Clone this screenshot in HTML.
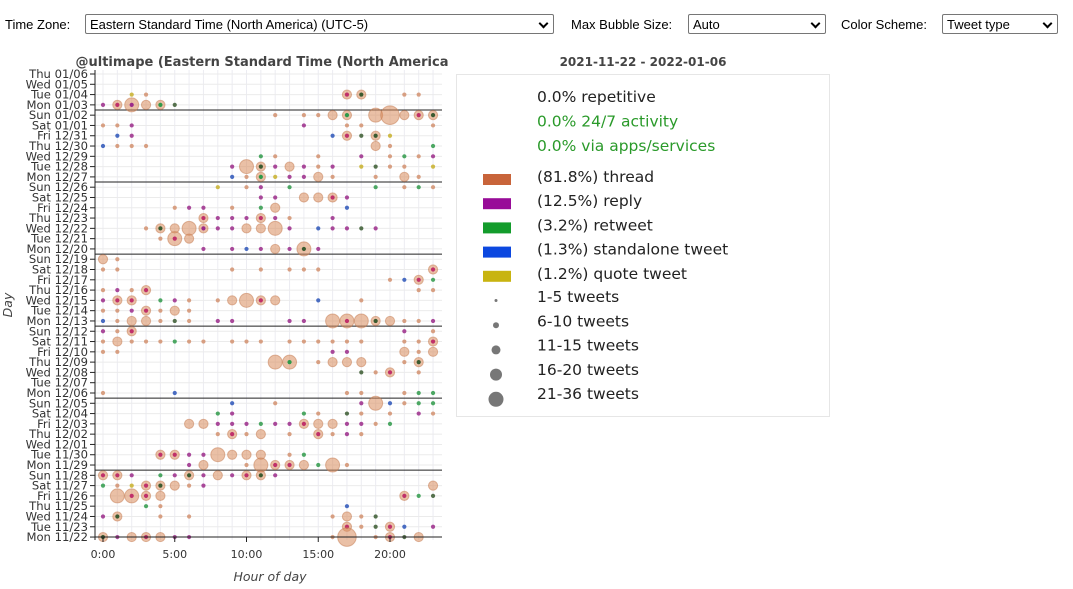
<!DOCTYPE html>
<html><head><meta charset="utf-8"><style>
body{margin:0;width:1073px;height:589px;background:#fff;overflow:hidden;font-family:"Liberation Sans",Arial,sans-serif;}
.sel{position:absolute;top:14px;height:20px;border:1px solid #767676;border-radius:2px;font-size:13px;line-height:20px;padding-left:4px;box-sizing:border-box;color:#000;background:#fff}
.sel:after{content:"";position:absolute;right:6px;top:5px;width:5px;height:5px;border-right:2px solid #000;border-bottom:2px solid #000;transform:rotate(45deg)}
.lab{position:absolute;top:17px;font-size:13px;color:#000}
</style></head><body>
<div class="lab" style="left:5px">Time Zone:</div>
<div class="sel" style="left:85px;width:469px">Eastern Standard Time (North America) (UTC-5)</div>
<div class="lab" style="left:571px">Max Bubble Size:</div>
<div class="sel" style="left:688px;width:138px">Auto</div>
<div class="lab" style="left:841px">Color Scheme:</div>
<div class="sel" style="left:942px;width:116px">Tweet type</div>
<svg id="s" width="1073" height="589" style="position:absolute;left:0;top:0" xmlns="http://www.w3.org/2000/svg" font-family="DejaVu Sans, sans-serif"></svg>
<script>
var S=document.getElementById('s'),h='';
var X0=103,DX=14.35,Y0=74,DY=10.29;
h+='<text x="262" y="66" text-anchor="middle" font-size="13" font-weight="bold" fill="#444">@ultimape (Eastern Standard Time (North America</text>';
h+='<text x="643" y="66" text-anchor="middle" font-size="12" font-weight="bold" fill="#444">2021-11-22 - 2022-01-06</text>';
var days=["Thu 01/06","Wed 01/05","Tue 01/04","Mon 01/03","Sun 01/02","Sat 01/01","Fri 12/31","Thu 12/30","Wed 12/29","Tue 12/28","Mon 12/27","Sun 12/26","Sat 12/25","Fri 12/24","Thu 12/23","Wed 12/22","Tue 12/21","Mon 12/20","Sun 12/19","Sat 12/18","Fri 12/17","Thu 12/16","Wed 12/15","Tue 12/14","Mon 12/13","Sun 12/12","Sat 12/11","Fri 12/10","Thu 12/09","Wed 12/08","Tue 12/07","Mon 12/06","Sun 12/05","Sat 12/04","Fri 12/03","Thu 12/02","Wed 12/01","Tue 11/30","Mon 11/29","Sun 11/28","Sat 11/27","Fri 11/26","Thu 11/25","Wed 11/24","Tue 11/23","Mon 11/22"];
for(var i=0;i<24;i++){var x=X0+i*DX;h+='<line x1="'+x+'" y1="70" x2="'+x+'" y2="540" stroke="#ececf2" stroke-width="1"/>';}
for(var r=0;r<46;r++){var y=Y0+r*DY;h+='<line x1="95" y1="'+y+'" x2="442" y2="'+y+'" stroke="#ebebeb"/>';
h+='<line x1="90" y1="'+y+'" x2="95" y2="'+y+'" stroke="#222"/>';
h+='<text x="88" y="'+(y+4)+'" text-anchor="end" font-size="11.6" fill="#333">'+days[r]+'</text>';
if(days[r].indexOf('Mon')==0&&r<45){var yy=y+DY/2;h+='<line x1="95" y1="'+yy+'" x2="442" y2="'+yy+'" stroke="#222"/>';}}
var C={o:"#d2906e",p:"#9b2a8a",g:"#2f9a4a",b:"#2b55b8",y:"#c8b02a",d:"#3a5a30",r:"#c0306a"};
var R={s:2.2,m:4.6,L:7,X:9.3};
var D=[
"","","2sy 3so 17mr 18md 21so 22so","0sp 1mr 2Lp 3mo 4mg 5sd",
"12so 14so 15so 16mo 17mg 19Lo 20Xo 21mo 22mr 23md","0so 1so 2sp 14sp 17so 18so 23so","1sb 2sp 16sb 17mr 18sd 19md 20sy","0sb 1so 2so 3so 19mo 20so 23sg",
"11sg 12so 15so 18sp 20so 21sg 22so 23sp","9sp 10Lo 11md 12sp 13mo 14sp 15so 16sp 18sy 19sd 20so 21so 23sy","9sb 10so 11mg 12sy 13sp 14sp 15mo 16so 19so 21mo 22so","8sy 10so 11sp 13sg 19sg 21so 22sg 23so",
"11sp 12sp 14mo 15mo 16mr 17sp","5so 6sp 7sp 9so 11sg 12mo 17sb","7mr 8sp 9sp 10sp 11mr 12sp 13so 16sp","3so 4md 5mo 6Lo 7mp 8sp 9sp 10mo 11mo 12Lo 13sp 15sb 16sp 17sp 18sd 19sp",
"4so 5Lr 6mo","7sp 9sp 10sb 11sp 12mo 13sp 14Ld 15sp","0mo 1so","0so 1so 9so 11so 13so 14so 15so 23mr",
"20so 21sb 22mr 23sg","0so 1sp 2so 3mr 22so 23so","0sp 1mr 2mr 4sg 5sp 6so 8so 9mo 10Lo 11mr 12mo 15sb 18so","0so 1so 2sp 3mr 4so 5mo 6so",
"0sb 1so 2mo 3mo 4so 5sd 6so 8sp 9sp 13sp 14sp 16Lo 17Lr 18Lo 19md 20mo 21so 22so 23sp","0sp 1so 2mr 21sp 23so","0so 1mo 2so 3so 4so 5sg 6so 7so 9so 10so 11so 13so 14so 15so 16so 17so 18so 21so 22so 23mr","0so 1so 16sp 17sp 21mo 22so 23mo",
"12Lo 13Lg 15so 16mo 17mo 18mo 21so 22md","18sd 19so 20mr 22so","","0so 5sb 17so 18so 21so 22sg 23sg",
"9sb 12so 18sp 19Lo 20sb 21so 22sg 23sg","8sg 9sp 14sg 15so 17sd 18so 20so 22sp 23so","6mo 7mo 8sp 9sp 10sp 11sg 12sp 13sp 14mr 15mo 16mo 17sp 18sp 19so 20sg","8so 9mr 10so 11mo 13so 15mr 16so 17sp 18so",
"","4mr 5mr 6sp 7sp 8Lo 9mo 10mo 11mo 13so 14sg","6sp 7mo 10so 11Lo 12mr 13mr 14mo 15sg 16Lo 17so","0mr 1mr 2sp 4sg 5sp 6md 7sp 8mo 9sp 10mr 11md 12sp",
"0sg 1so 2sy 3mr 4md 5mo 6so 7sp 23mo","1Lo 2Lr 3mr 4mo 21mr 22sg 23sd","3sg 4so 17sb","0sp 1md 4so 6so 16so 17mo 18so 19sd",
"17mr 18so 19sd 20mr 21sb 23sp","0md 1sp 2mo 3mr 4mo 5sp 6sp 16so 17Xo 19so 20mr 21sd 22mo"];
for(var r=0;r<46;r++){if(!D[r])continue;D[r].split(' ').forEach(function(t){var m=t.match(/(\d+)(\w)(\w)/);var hr=+m[1],sz=m[2],c=m[3];var x=X0+hr*DX,y=Y0+r*DY;
if(sz=='s'){h+='<circle cx="'+x+'" cy="'+y+'" r="2.1" fill="'+C[c]+'" fill-opacity="0.85"/>';}
else{h+='<circle cx="'+x+'" cy="'+y+'" r="'+R[sz]+'" fill="#d98c5c" fill-opacity="0.55" stroke="#c47a50" stroke-opacity="0.5"/>';
if(c!='o')h+='<circle cx="'+x+'" cy="'+y+'" r="2.1" fill="'+C[c]+'"/>';}});}
h+='<line x1="95" y1="70" x2="95" y2="540" stroke="#222"/>';
h+='<line x1="95" y1="537" x2="442" y2="537" stroke="#222"/>';
[0,5,10,15,20].forEach(function(v){var x=X0+v*DX;h+='<line x1="'+x+'" y1="537" x2="'+x+'" y2="542" stroke="#222"/><text x="'+x+'" y="558" text-anchor="middle" font-size="11" fill="#333">'+v+':00</text>';});
h+='<text x="270" y="581" text-anchor="middle" font-size="12.5" font-style="italic" fill="#444">Hour of day</text>';
h+='<text transform="translate(12,305) rotate(-90)" text-anchor="middle" font-size="12.5" font-style="italic" fill="#444">Day</text>';
h+='<rect x="456.5" y="74.5" width="373" height="342" fill="#fff" stroke="#e6e6e6"/>';
var L=[["0.0% repetitive","#222"],["0.0% 24/7 activity","#2a9a2a"],["0.0% via apps/services","#2a9a2a"]];
L.forEach(function(l,i){h+='<text x="537" y="'+(102+i*24.5)+'" font-size="15.5" fill="'+l[1]+'">'+l[0]+'</text>';});
var T=[["#c8643a","(81.8%) thread"],["#980c98","(12.5%) reply"],["#139c2c","(3.2%) retweet"],["#0c48e0","(1.3%) standalone tweet"],["#c8b410","(1.2%) quote tweet"]];
T.forEach(function(l,i){var y=181+i*24.2;h+='<rect x="483" y="'+(y-7)+'" width="28" height="11" fill="'+l[0]+'"/><text x="537" y="'+(y+1)+'" font-size="15.5" fill="#222">'+l[1]+'</text>';});
var B=[[1.5,"1-5 tweets"],[3,"6-10 tweets"],[4.5,"11-15 tweets"],[6,"16-20 tweets"],[7.5,"21-36 tweets"]];
B.forEach(function(l,i){var y=301+i*24.3;h+='<circle cx="496" cy="'+(y-0.5+i*0.4)+'" r="'+l[0]+'" fill="#777"/><text x="537" y="'+(y+1)+'" font-size="15.5" fill="#222">'+l[1]+'</text>';});
S.innerHTML=h;
</script>
</body></html>
